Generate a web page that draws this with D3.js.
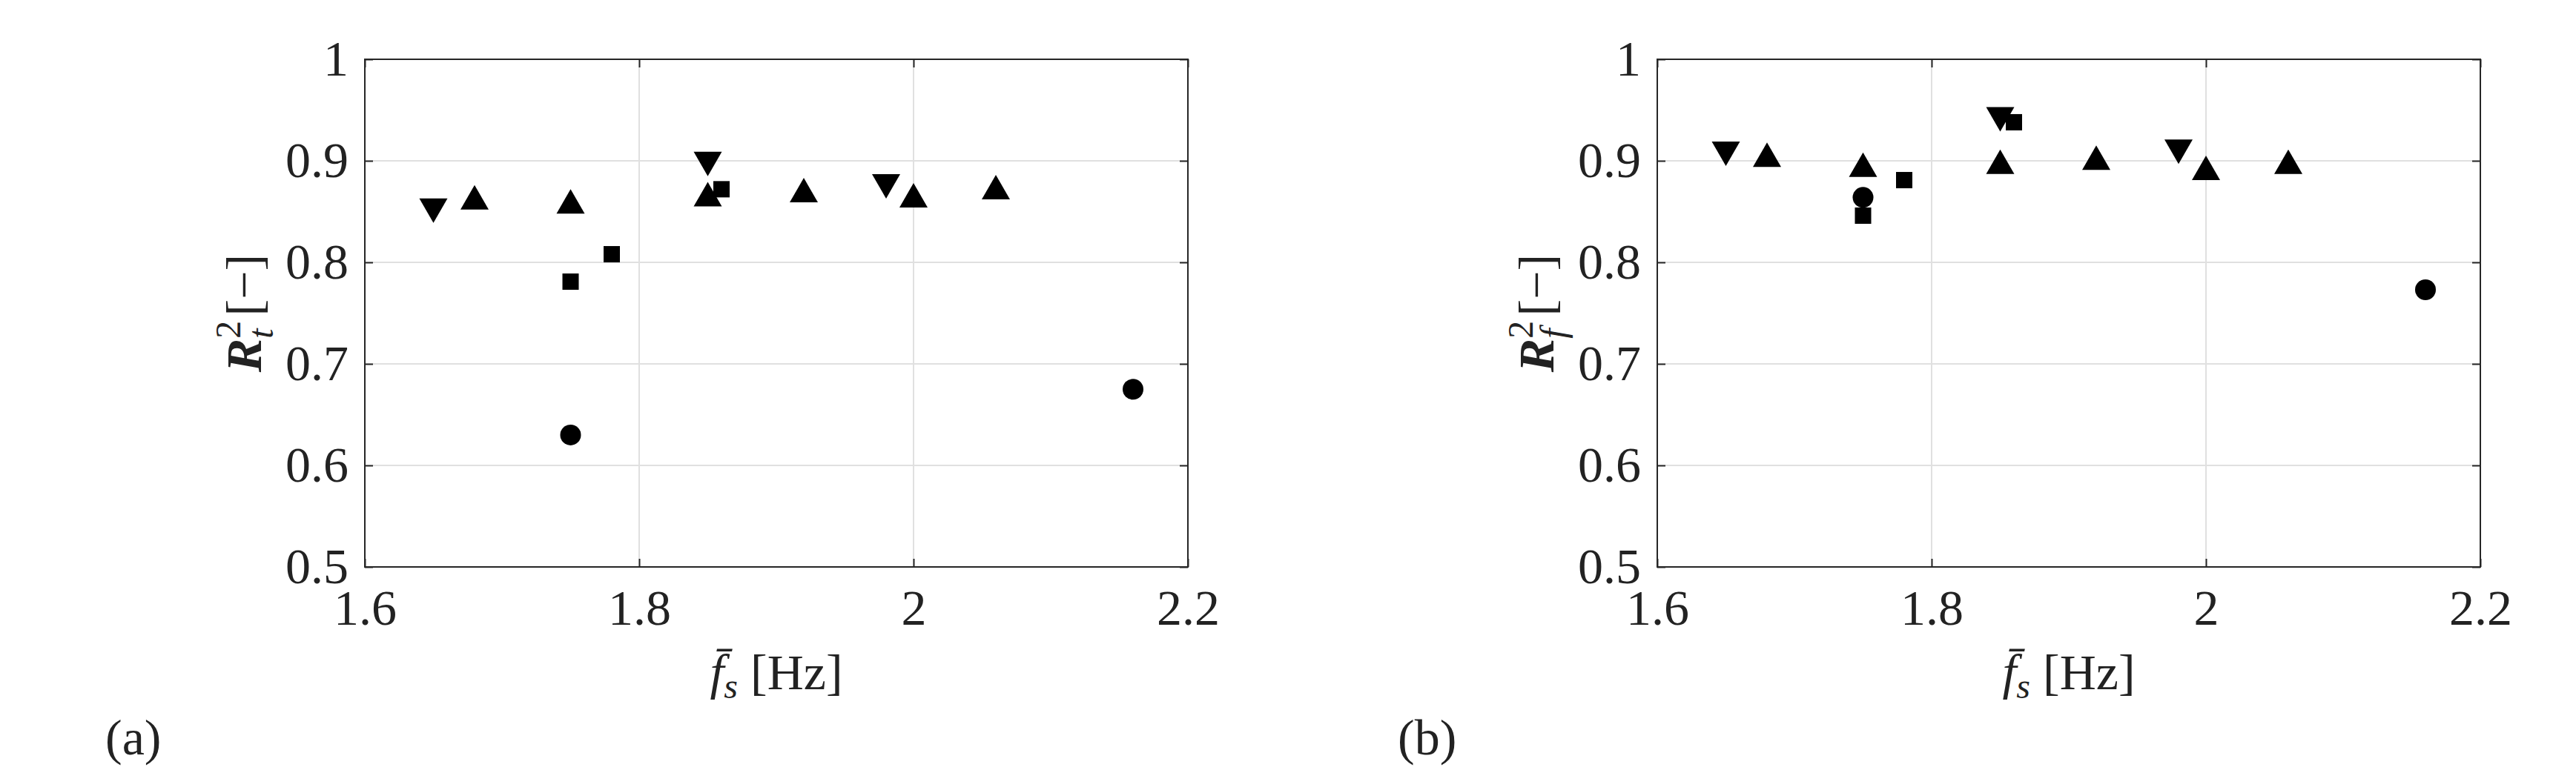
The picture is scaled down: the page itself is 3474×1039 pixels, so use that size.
<!DOCTYPE html>
<html><head><meta charset="utf-8">
<script src="https://cdn.jsdelivr.net/npm/d3@7"></script>
<style>body{margin:0;background:#fff}svg text{font-family:"Liberation Serif","DejaVu Serif",serif;fill:#222}</style>
</head><body><svg id="c" width="3474" height="1039"></svg>
<script>
const xTicks=[1.6,1.8,2.0,2.2], xTickLabels=["1.6","1.8","2","2.2"];
const yTicks=[0.5,0.6,0.7,0.8,0.9,1.0], yTickLabels=["0.5","0.6","0.7","0.8","0.9","1"];
const aDown=[[1.65,0.852],[1.85,0.898],[1.98,0.876]];
const aUp=[[1.68,0.863],[1.75,0.859],[1.85,0.866],[1.92,0.870],[2.0,0.865],[2.06,0.873]];
const aSquare=[[1.75,0.781],[1.78,0.808],[1.86,0.872]];
const aCircle=[[1.75,0.630],[2.16,0.675]];
const bDown=[[1.65,0.908],[1.85,0.942],[1.98,0.910]];
const bUp=[[1.68,0.905],[1.75,0.895],[1.85,0.898],[1.92,0.902],[2.0,0.892],[2.06,0.898]];
const bSquare=[[1.75,0.846],[1.78,0.881],[1.86,0.938]];
const bCircle=[[1.75,0.864],[2.16,0.773]];

const svg=d3.select("#c");
function panel(left,sub,label,down,up,sq,ci){
  const W=1110,top=80,H=685;
  const x=d3.scaleLinear().domain([1.6,2.2]).range([left,left+W]);
  const y=d3.scaleLinear().domain([0.5,1.0]).range([top+H,top]);
  const g=svg.append("g");
  xTicks.slice(1,-1).forEach(t=>g.append("line").attr("x1",x(t)).attr("x2",x(t)).attr("y1",top).attr("y2",top+H).attr("stroke","#e0e0e0").attr("stroke-width",2));
  yTicks.slice(1,-1).forEach(t=>g.append("line").attr("y1",y(t)).attr("y2",y(t)).attr("x1",left).attr("x2",left+W).attr("stroke","#e0e0e0").attr("stroke-width",2));
  const ax=d3.axisBottom(x).tickValues(xTicks).tickFormat((d,i)=>xTickLabels[i]).tickSizeInner(-11).tickSizeOuter(0).tickPadding(30);
  const ax2=d3.axisTop(x).tickValues(xTicks).tickFormat("").tickSizeInner(-11).tickSizeOuter(0);
  const ay=d3.axisLeft(y).tickValues(yTicks).tickFormat((d,i)=>yTickLabels[i]).tickSizeInner(-11).tickSizeOuter(0).tickPadding(22);
  const ay2=d3.axisRight(y).tickValues(yTicks).tickFormat("").tickSizeInner(-11).tickSizeOuter(0);
  [[ax,`translate(0,${top+H})`],[ax2,`translate(0,${top})`],[ay,`translate(${left},0)`],[ay2,`translate(${left+W},0)`]].forEach(([a,t])=>{
    const s=g.append("g").attr("transform",t).call(a);
    s.selectAll("path").remove();
    s.selectAll("line").attr("stroke","#262626").attr("stroke-width",2);
    s.selectAll("text").attr("font-size",68).style("font-family","Liberation Serif").attr("fill","#262626");
  });
  g.append("rect").attr("x",left).attr("y",top).attr("width",W).attr("height",H).attr("fill","none").attr("stroke","#262626").attr("stroke-width",2);
  const tri=(d,dir)=>{const cx=x(d[0]),cy=y(d[1]),w=19,h=15;return dir>0?`M${cx-w},${cy+h}L${cx+w},${cy+h}L${cx},${cy-h-3}Z`:`M${cx-w},${cy-h}L${cx+w},${cy-h}L${cx},${cy+h+3}Z`;};
  g.selectAll(null).data(up).enter().append("path").attr("d",d=>tri(d,1)).attr("fill","#000");
  g.selectAll(null).data(down).enter().append("path").attr("d",d=>tri(d,-1)).attr("fill","#000");
  g.selectAll(null).data(sq).enter().append("rect").attr("x",d=>x(d[0])-11).attr("y",d=>y(d[1])-11).attr("width",22).attr("height",22).attr("fill","#000");
  g.selectAll(null).data(ci).enter().append("ellipse").attr("cx",d=>x(d[0])).attr("cy",d=>y(d[1])).attr("rx",14).attr("ry",14).attr("fill","#000");
  const xl=g.append("text").attr("x",left+W/2).attr("y",930).attr("text-anchor","middle").attr("font-size",68);
  xl.append("tspan").attr("font-style","italic").text("f̄");
  xl.append("tspan").attr("font-style","italic").attr("font-size",48).attr("dy",12).text("s");
  xl.append("tspan").attr("dy",-12).text(" [Hz]");
  const yl=g.append("text").attr("transform",`translate(${left-140},${top+H/2}) rotate(-90)`).attr("text-anchor","middle").attr("font-size",68);
  yl.append("tspan").attr("font-style","italic").attr("font-weight","bold").text("R");
  yl.append("tspan").attr("font-size",48).attr("dy",-28).text("2");
  yl.append("tspan").attr("font-style","italic").attr("font-size",48).attr("dy",44).attr("dx",-24).text(sub);
  yl.append("tspan").attr("dy",-16).text("  [−]");
  g.append("text").attr("x",left-350).attr("y",1018).attr("font-size",68).text(label);
}
panel(492,"t","(a)",aDown,aUp,aSquare,aCircle);
panel(2235,"f","(b)",bDown,bUp,bSquare,bCircle);
</script></body></html>
